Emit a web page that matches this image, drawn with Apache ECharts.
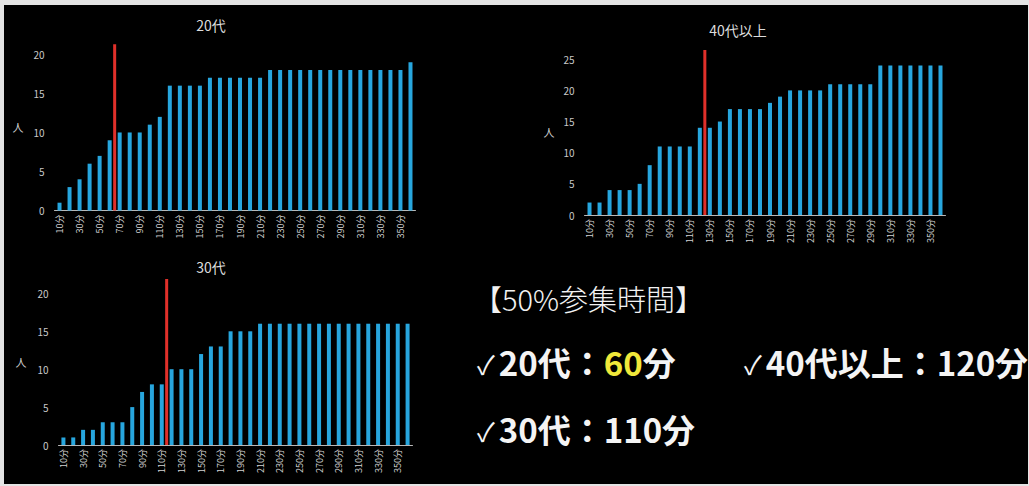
<!DOCTYPE html>
<html>
<head>
<meta charset="utf-8">
<script src="https://cdn.jsdelivr.net/npm/echarts@6/dist/echarts.min.js"></script>
<style>
  html, body { margin: 0; padding: 0; background: #e4e4e4; }
  #bg { position: absolute; left: 4px; top: 5px; width: 1024px; height: 479px; background: #000; }
  #chart { position: absolute; left: 0; top: 0; width: 1029px; height: 486px; }
</style>
</head>
<body>
<div id="bg"></div>
<div id="chart"></div>
<script>
// ---- data ----
const categories = ['10分','20分','30分','40分','50分','60分','70分','80分','90分','100分',
  '110分','120分','130分','140分','150分','160分','170分','180分','190分','200分',
  '210分','220分','230分','240分','250分','260分','270分','280分','290分','300分',
  '310分','320分','330分','340分','350分','360分'];
const values20 = [1,3,4,6,7,9,10,10,10,11,12,16,16,16,16,17,17,17,17,17,17,
  18,18,18,18,18,18,18,18,18,18,18,18,18,18,19];
const values30 = [1,1,2,2,3,3,3,5,7,8,8,10,10,10,12,13,13,15,15,15,
  16,16,16,16,16,16,16,16,16,16,16,16,16,16,16,16];
const values40 = [2,2,4,4,4,5,8,11,11,11,11,14,14,15,17,17,17,17,18,19,
  20,20,20,20,21,21,21,21,21,24,24,24,24,24,24,24];
const titles = ['20代', '30代', '40代以上'];
// 50% attendance time (minutes) — red marker drawn at the end of that bin
const halfTimes = [60, 110, 120];
const redTops = [21.3, 21.9, 26.5];
const binWidth = 10;

const chart = echarts.init(document.getElementById('chart'), null, { renderer: 'svg' });

const FONT = '"Noto Sans CJK JP", "Noto Sans", sans-serif';
const BAR = '#27a6de';
const RED = '#e0302a';

const grids = [
  { left: 54.5, top: 44.3, width: 361, height: 166.2 },   // 20代
  { left: 58.5, top: 279, width: 354, height: 166 },      // 30代
  { left: 584.5, top: 49.9, width: 361, height: 165.1 }   // 40代以上
];
const seriesValues = [values20, values30, values40];
const nameGaps = [31, 32, 30];

const xAxes = [], yAxes = [], series = [];
grids.forEach((g, i) => {
  xAxes.push({
    type: 'category', gridIndex: i, data: categories,
    axisLine: { lineStyle: { color: '#b8b8b8', width: 1 } },
    axisTick: { show: false },
    axisLabel: { rotate: 90, interval: 1, color: '#d2d2d2', fontSize: 9, margin: 4, fontFamily: FONT }
  });
  xAxes.push({
    type: 'value', gridIndex: i, min: 5, max: 5 + binWidth * categories.length,
    show: false
  });
  yAxes.push({
    type: 'value', gridIndex: i, min: 0, max: redTops[i], interval: 5,
    name: '人', nameLocation: 'middle', nameRotate: 0, nameGap: nameGaps[i],
    nameTextStyle: { color: '#cfcfcf', fontSize: 11, fontFamily: FONT, padding: [13, 0, 0, 0] },
    axisLine: { show: false }, axisTick: { show: false }, splitLine: { show: false },
    axisLabel: { color: '#c8c8c8', fontSize: 10, margin: 10, showMaxLabel: false, fontFamily: FONT }
  });
  series.push({
    type: 'bar', xAxisIndex: i * 2, yAxisIndex: i, data: seriesValues[i],
    barWidth: 4, itemStyle: { color: BAR }, animation: false
  });
  const rx = halfTimes[i] + binWidth / 2;
  series.push({
    type: 'line', xAxisIndex: i * 2 + 1, yAxisIndex: i,
    data: [[rx, 0], [rx, redTops[i]]],
    symbol: 'none', lineStyle: { color: RED, width: 3 }, z: 5, animation: false
  });
});

const richText = {
  c: { fill: '#f4f4f4', font: 'normal 26px ' + FONT, verticalAlign: 'bottom', padding: [0, 4, 2, 0] },
  a: { fill: '#f4f4f4', font: 'bold 33px ' + FONT, verticalAlign: 'bottom' },
  b: { fill: '#f0e83a', font: 'bold 33px ' + FONT, verticalAlign: 'bottom' }
};
const option = {
  backgroundColor: 'transparent',
  animation: false,
  grid: grids,
  xAxis: xAxes,
  yAxis: yAxes,
  series: series,
  graphic: [
    { type: 'text', x: 211, y: 25, style: { text: titles[0], fill: '#dcdcdc', font: '14px ' + FONT, textAlign: 'center', textVerticalAlign: 'middle' } },
    { type: 'text', x: 211, y: 267, style: { text: titles[1], fill: '#dcdcdc', font: '14px ' + FONT, textAlign: 'center', textVerticalAlign: 'middle' } },
    { type: 'text', x: 738, y: 30, style: { text: titles[2], fill: '#dcdcdc', font: '14px ' + FONT, textAlign: 'center', textVerticalAlign: 'middle' } },
    { type: 'text', x: 473, y: 298, style: { text: '【50%参集時間】', fill: '#f2f2f2', font: '300 29px ' + FONT, textVerticalAlign: 'middle' } },
    { type: 'text', x: 477, y: 362, style: { text: '{c|✓}{a|20代：}{b|60}{a|分}', textVerticalAlign: 'middle', rich: richText } },
    { type: 'text', x: 744, y: 362, style: { text: '{c|✓}{a|40代以上：120分}', textVerticalAlign: 'middle', rich: richText } },
    { type: 'text', x: 477, y: 429, style: { text: '{c|✓}{a|30代：110分}', textVerticalAlign: 'middle', rich: richText } }
  ]
};
chart.setOption(option);
</script>
</body>
</html>
